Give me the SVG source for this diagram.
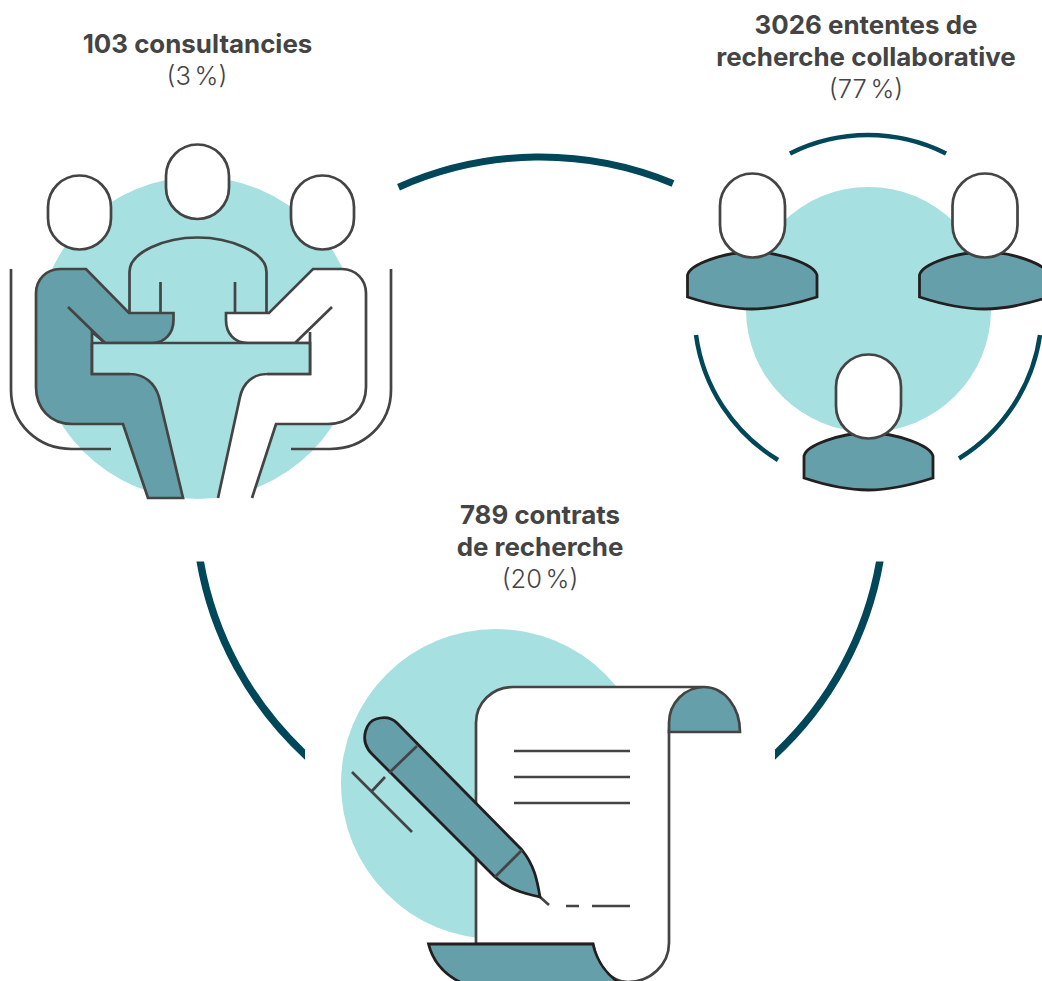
<svg xmlns="http://www.w3.org/2000/svg" width="1042" height="981" viewBox="0 0 1042 981">
<style>
.t{font-family:Inter,"Liberation Sans",sans-serif;text-anchor:middle;fill:#444}
.b{font-weight:700;font-size:25.900px}
.l{font-weight:300;font-size:25.500px;word-spacing:-3.500px}
.bg{fill:#a7e0e0}
.s{stroke:#444;stroke-width:2.700;stroke-linejoin:miter;fill:none}
.w{fill:#fff}
.m{fill:#659fa9}
.k{stroke:#231f20;stroke-width:2.800;stroke-linejoin:miter}
.a{fill:none;stroke:#00475a}
</style>
<defs>
<clipPath id="cl"><rect x="150" y="561.500" width="155" height="220"/></clipPath>
<clipPath id="cr"><rect x="775" y="561.500" width="155" height="220"/></clipPath>
</defs>
<rect width="1042" height="981" fill="#fff"/>
<g id="connectors">
<path class="a" stroke-width="7" d="M398.500 187.200A347 347 0 0 1 673 183.500"/>
<path class="a" stroke-width="7.500" clip-path="url(#cl)" d="M199.300 556A345 345 0 0 0 309 758.200"/>
<path class="a" stroke-width="7.500" clip-path="url(#cr)" d="M880.700 556A345 345 0 0 1 771 758.200"/>
</g>
<g id="node-consultancies">
<circle class="bg" cx="197.500" cy="338" r="161"/>
<rect class="s w" x="166" y="144.500" width="63" height="74.500" rx="31.500"/>
<rect class="s w" x="48" y="175.500" width="63" height="74" rx="31.500"/>
<rect class="s w" x="291" y="175.500" width="63" height="74" rx="31.500"/>
<path class="s" d="M129.500 313V272C129.500 252 165 237.500 197.500 237.500S266.500 252 266.500 272V313M160.500 282V313M235 282V313"/>
<path class="s" d="M11 269V390C11 424 38 449 72 449H111M391 269V390C391 424 364 449 330 449H291"/>
<path class="w" d="M310 332V343H248C234 343 226 333 226 320V313H269L313 269H342C356 269 366 280 366 293V387C366 408 350 424 328 424H276L252 498H218L240 397C243 383 253 374 267 374H310Z"/>
<path class="s" d="M310 332V374H267C253 374 243 383 240 397L218 498M252 498L276 424H328C350 424 366 408 366 387V293C366 280 356 269 342 269H313L269 313H226V320C226 333 234 343 248 343H310M332 307L295 343"/>
<path class="s m" d="M129 313H173.500V320C173.500 333 165 343 152 343H105L92 332V374H130C144 374 155 383 159 397L183 498H148L123 424H72C50 424 36 408 36 387V293C36 280 46 269 60 269H86Z"/>
<path class="s" d="M68 307L105 343"/>
<path class="bg" d="M93.200 344.200H308.800V372.800H93.200Z"/>
<path class="s" d="M92 343H310V374H267M92 343V374H130"/>
</g>
<g id="node-ententes">
<circle class="bg" cx="868.500" cy="309.500" r="122.500"/>
<path class="a" stroke-width="4.500" d="M790 153.500A174 174 0 0 1 946 153.500M696 335A174 174 0 0 0 778 460M1040 335A174 174 0 0 1 959 458.500"/>
<path class="k m" d="M687.500 275C690 264 725 252 752 252S814 264 817 275V297C795 304 775 309 752 309S709 304 687.500 297Z"/>
<rect class="s w" x="720" y="173.500" width="65" height="84" rx="32.500"/>
<path class="k m" d="M919.500 275C922 264 957 252 984.500 252S1046 264 1049 275V297C1027 304 1007 309 984.500 309S941 304 919.500 297Z"/>
<rect class="s w" x="952.500" y="173.500" width="65" height="84" rx="32.500"/>
<path class="k m" d="M804 456C806 445 841 433 868.500 433S930 445 933 456V478C911 485 891 490 868.500 490S825 485 804 478Z"/>
<rect class="s w" x="836" y="354.500" width="65" height="84" rx="32.500"/>
</g>
<g id="node-contrats">
<circle class="bg" cx="496" cy="784" r="155"/>
<path class="s w" d="M476 944V723C476 703 492 687 513 687H703C688 690 669 705 669 732V943C669 965 650 982 628 982C610 982 597 965 593 944Z"/>
<path class="s m" d="M669 732V723C669 703 685 687 704 687C725 687 740 708 740 732Z"/>
<path class="k m" d="M428.500 944H593C597 962 608 976 621 984H464C446 976 433 962 428.500 944Z"/>
<path class="s" d="M514 751H630M514 777H630M514 803H630M566 906H579M592 906H630"/>
<path class="s" d="M352 772L412 832M385 777L372 791M540 897L549 905"/>
<path class="k m" d="M397 723C390 716 382 717 376 719C366 722 361 738 368 749C369 751 370 752 372 754L495 877C508 889 522 893 540 897C537 879 534 865 522 850Z"/>
<path class="s" d="M417 746L389 773M522 850L495 877"/>
</g>
<g id="labels">
<text class="t b" x="197.500" y="53">103 consultancies</text>
<text class="t l" x="197" y="85">(3 %)</text>
<text class="t b" x="866" y="34">3026 ententes de</text>
<text class="t b" x="866" y="66">recherche collaborative</text>
<text class="t l" x="866" y="98">(77 %)</text>
<text class="t b" x="540" y="524">789 contrats</text>
<text class="t b" x="540" y="556">de recherche</text>
<text class="t l" x="540" y="588">(20 %)</text>
</g>
</svg>
